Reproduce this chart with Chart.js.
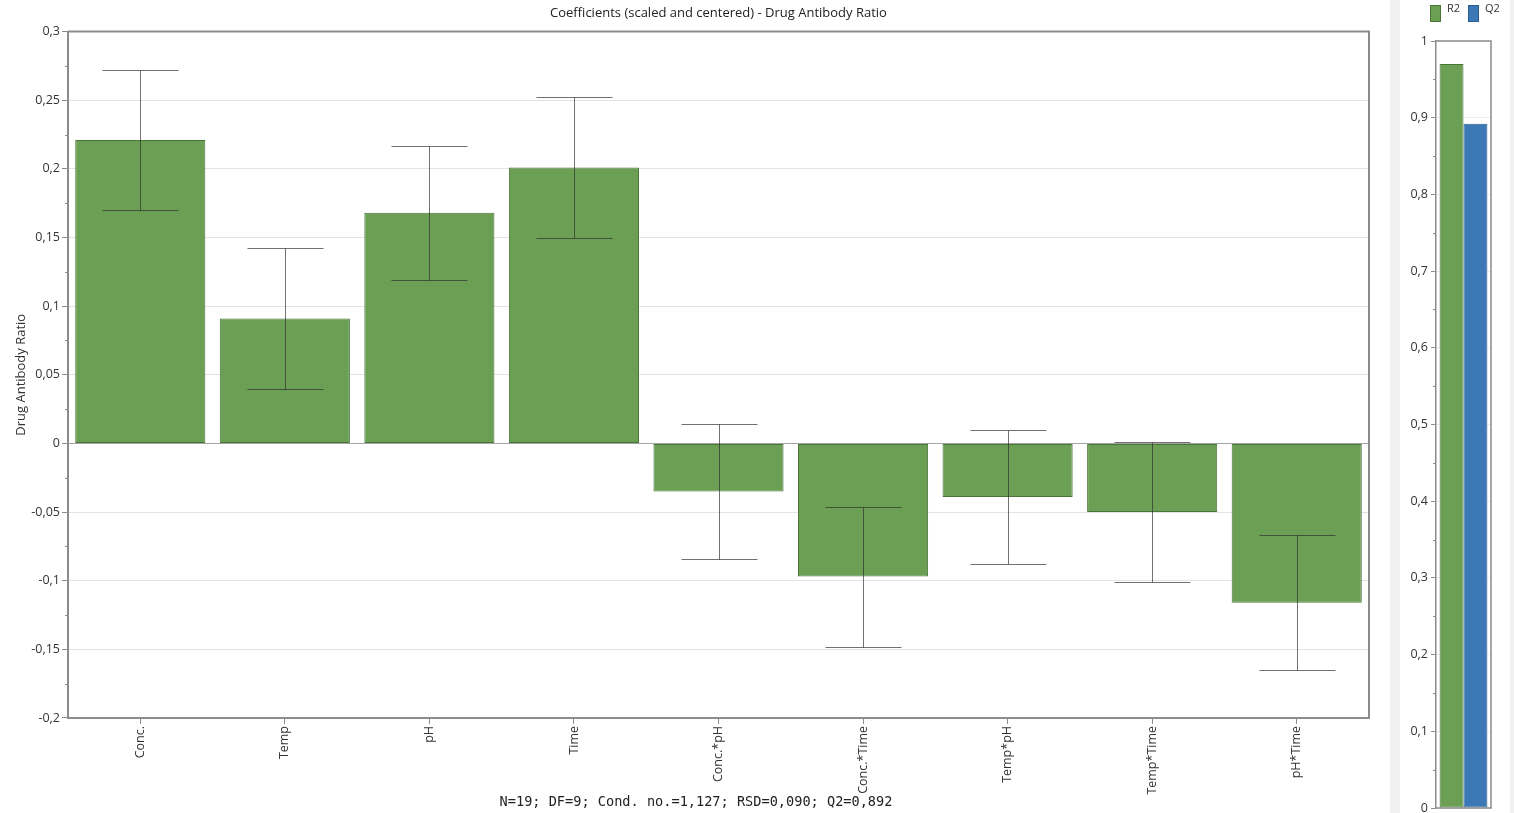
<!DOCTYPE html>
<html>
<head>
<meta charset="utf-8">
<title>Coefficients - Drug Antibody Ratio</title>
<script src="https://cdn.jsdelivr.net/npm/chart.js@4.4.1/dist/chart.umd.min.js"></script>
<style>
  html, body { margin: 0; padding: 0; background: #fff; width: 1514px; height: 813px; overflow: hidden; }
  #coefChart { position: absolute; left: 0; top: 0; }
  #fitChart { position: absolute; left: 1400px; top: 0; }
  .strip { position: absolute; top: 0; height: 813px; background: #f0f0f0; }
</style>
</head>
<body>
<canvas id="coefChart" width="1390" height="813"></canvas>
<div class="strip" style="left:1390px;width:10px"></div>
<div class="strip" style="left:1510px;width:4px"></div>
<canvas id="fitChart" width="110" height="813"></canvas>
<script>
// Model terms and their scaled & centred coefficients
const terms = ['Conc.', 'Temp', 'pH', 'Time', 'Conc.*pH', 'Conc.*Time', 'Temp*pH', 'Temp*Time', 'pH*Time'];
const coefficients = [0.221, 0.091, 0.168, 0.201, -0.035, -0.097, -0.039, -0.050, -0.116];
// Half-width of the confidence interval for each coefficient
const confInterval = [0.051, 0.051, 0.049, 0.051, 0.049, 0.051, 0.049, 0.051, 0.049];
const coefTicks = [-0.2, -0.15, -0.1, -0.05, 0, 0.05, 0.1, 0.15, 0.2, 0.25, 0.3];
const fitStats = 'N=19; DF=9; Cond. no.=1,127; RSD=0,090; Q2=0,892';

// Summary of fit
const fitLabels = ['R2', 'Q2'];
const fitValues = [0.970, 0.892];
const fitTicks = [0, 0.1, 0.2, 0.3, 0.4, 0.5, 0.6, 0.7, 0.8, 0.9, 1];

const GREEN = '#6b9f53';
const GREEN_EDGE = '#4a7438';
const BLUE = '#3b78b5';
const BLUE_EDGE = '#2b5d8f';
const AXIS = '#8c8c8c';

Chart.defaults.font.family = "'Open Sans', 'Noto Sans', sans-serif";
Chart.defaults.color = '#333';
Chart.defaults.animation = false;

// decimal comma formatting
const fmt = v => String(Number(v.toFixed(4))).replace('.', ',');

// short unlabeled ticks halfway between the labelled ones
const minorTicks = {
  id: 'minorTicks',
  afterDraw(chart) {
    const y = chart.scales.y;
    const vals = y.ticks.map(t => t.value);
    const ctx = chart.ctx;
    ctx.save();
    ctx.strokeStyle = AXIS;
    ctx.lineWidth = 1;
    ctx.beginPath();
    for (let i = 0; i < vals.length - 1; i++) {
      const py = Math.round(y.getPixelForValue((vals[i] + vals[i + 1]) / 2)) + 0.5;
      ctx.moveTo(y.right - 3, py);
      ctx.lineTo(y.right, py);
    }
    ctx.stroke();
    ctx.restore();
  }
};

// closes the plot box on the top and right (and bottom if asked)
const plotFrame = {
  id: 'plotFrame',
  afterDatasetsDraw(chart, args, opts) {
    const { ctx, chartArea: a } = chart;
    ctx.save();
    ctx.strokeStyle = AXIS;
    ctx.lineWidth = opts.width || 2;
    ctx.beginPath();
    ctx.moveTo(a.left, a.top);
    ctx.lineTo(a.right, a.top);
    ctx.lineTo(a.right, a.bottom);
    if (opts.bottom) ctx.lineTo(a.left, a.bottom);
    ctx.stroke();
    ctx.restore();
  }
};

// confidence interval whiskers on each coefficient bar
const errorBars = {
  id: 'errorBars',
  afterDatasetsDraw(chart) {
    const { ctx, scales: { x, y } } = chart;
    const half = (x.getPixelForValue(1) - x.getPixelForValue(0)) * 0.263;
    ctx.save();
    ctx.strokeStyle = 'rgba(45,45,45,0.68)';
    ctx.lineWidth = 1;
    coefficients.forEach((v, i) => {
      const cx = Math.round(x.getPixelForValue(i)) + 0.5;
      const yt = Math.round(y.getPixelForValue(v + confInterval[i])) + 0.5;
      const yb = Math.round(y.getPixelForValue(v - confInterval[i])) + 0.5;
      ctx.beginPath();
      ctx.moveTo(cx, yt); ctx.lineTo(cx, yb);
      ctx.moveTo(cx - half, yt); ctx.lineTo(cx + half, yt);
      ctx.moveTo(cx - half, yb); ctx.lineTo(cx + half, yb);
      ctx.stroke();
    });
    ctx.restore();
  }
};

new Chart(document.getElementById('coefChart'), {
  type: 'bar',
  data: {
    labels: terms,
    datasets: [{
      label: 'Drug Antibody Ratio',
      data: coefficients,
      backgroundColor: GREEN,
      borderColor: GREEN_EDGE,
      borderWidth: 1,
      borderSkipped: false,
      barPercentage: 0.9,
      categoryPercentage: 1
    }]
  },
  options: {
    responsive: false,
    layout: { padding: { top: 0, right: 21, bottom: 0, left: 23 } },
    plugins: {
      legend: { display: false },
      tooltip: { enabled: false },
      title: {
        display: true,
        fullSize: false,
        text: 'Coefficients (scaled and centered) - Drug Antibody Ratio',
        color: '#222',
        font: { size: 13, weight: 'normal' },
        padding: { top: 5, bottom: 11 }
      },
      subtitle: {
        display: true,
        position: 'bottom',
        text: fitStats,
        color: '#222',
        font: { family: "'DejaVu Sans Mono', monospace", size: 13.6, weight: 'normal' },
        padding: { top: 0, bottom: 2 }
      },
      plotFrame: { width: 2 }
    },
    scales: {
      x: {
        afterFit: s => { s.height = 76.7; },
        grid: { offset: false, drawOnChartArea: false, tickLength: 6, color: AXIS },
        border: { color: AXIS, width: 2 },
        ticks: { autoSkip: false, maxRotation: 90, minRotation: 90, padding: 2, font: { size: 12.5 }, color: '#333' }
      },
      y: {
        min: -0.2,
        max: 0.3,
        afterBuildTicks: s => { s.ticks = coefTicks.map(v => ({ value: v })); },
        afterFit: s => { s.width = 45; },
        title: {
          display: true,
          text: 'Drug Antibody Ratio',
          font: { size: 13 },
          color: '#333',
          padding: { top: -10, bottom: 0 }
        },
        grid: {
          color: c => (c.tick && c.tick.value === 0) ? '#a5a5a5' : '#e3e3e3',
          tickColor: AXIS,
          tickLength: 6
        },
        border: { color: AXIS, width: 2 },
        ticks: { padding: 2, font: { size: 12.5 }, color: '#333', callback: v => fmt(v) }
      }
    }
  },
  plugins: [errorBars, minorTicks, plotFrame]
});

// legend for the summary-of-fit bars
const fitLegend = {
  id: 'fitLegend',
  afterDraw(chart) {
    const ctx = chart.ctx;
    const xs = [30, 68];
    ctx.save();
    ctx.font = "11px 'Open Sans', sans-serif";
    ctx.textBaseline = 'middle';
    ctx.textAlign = 'left';
    chart.data.datasets.forEach((ds, i) => {
      ctx.fillStyle = ds.backgroundColor;
      ctx.strokeStyle = ds.borderColor;
      ctx.lineWidth = 1;
      ctx.fillRect(xs[i], 5, 11, 17);
      ctx.strokeRect(xs[i] + 0.5, 5.5, 10, 16);
      ctx.fillStyle = '#333';
      ctx.fillText(ds.label, xs[i] + 17, 9);
    });
    ctx.restore();
  }
};

new Chart(document.getElementById('fitChart'), {
  type: 'bar',
  data: {
    labels: [''],
    datasets: fitLabels.map((lab, i) => ({
      label: lab,
      data: [fitValues[i]],
      backgroundColor: i === 0 ? GREEN : BLUE,
      borderColor: i === 0 ? GREEN_EDGE : BLUE_EDGE,
      borderWidth: 1,
      borderSkipped: false,
      barPercentage: 1,
      categoryPercentage: 0.87
    }))
  },
  options: {
    responsive: false,
    layout: { padding: { top: 41, right: 19, bottom: 5, left: 0 } },
    plugins: {
      legend: { display: false },
      tooltip: { enabled: false },
      plotFrame: { width: 1.5, bottom: true }
    },
    scales: {
      x: { display: false },
      y: {
        min: 0,
        max: 1,
        afterBuildTicks: s => { s.ticks = fitTicks.map(v => ({ value: v })); },
        afterFit: s => { s.width = 36; s.paddingTop = 0; s.paddingBottom = 0; },
        grid: { color: '#ececec', tickColor: AXIS, tickLength: 5 },
        border: { color: AXIS, width: 1.5 },
        ticks: { padding: 3, font: { size: 12.5 }, color: '#333', callback: v => fmt(v) }
      }
    }
  },
  plugins: [minorTicks, plotFrame, fitLegend]
});
</script>
</body>
</html>
